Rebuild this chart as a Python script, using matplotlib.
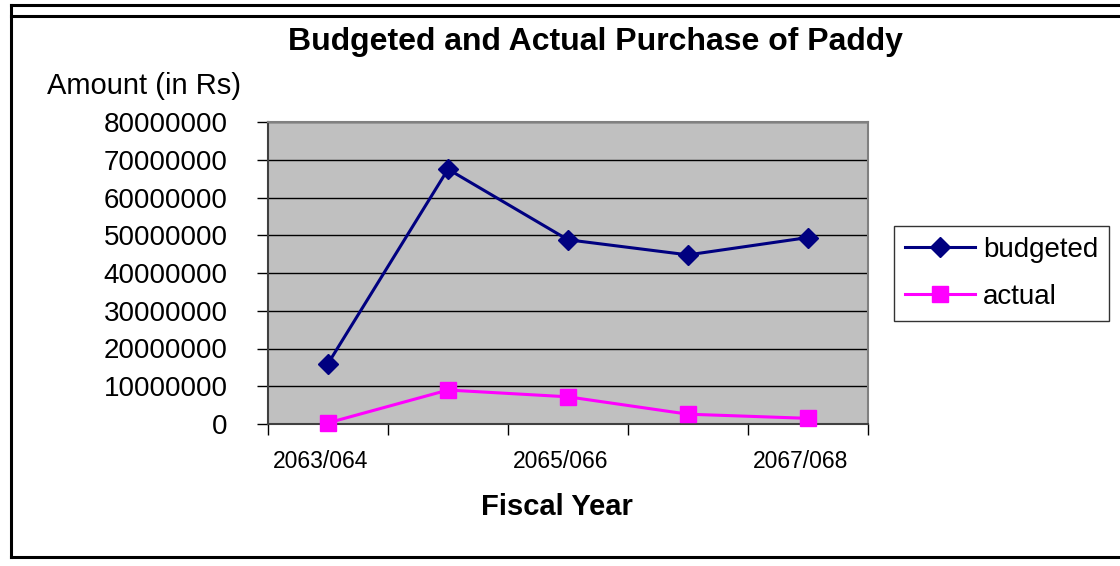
import matplotlib.pyplot as plt
import matplotlib.transforms as mtransforms
from matplotlib.lines import Line2D

plt.rcParams['font.family'] = ['Liberation Sans', 'DejaVu Sans']

years = ['2063/064', '2064/065', '2065/066', '2066/067', '2067/068']
budgeted = [16000000, 67500000, 48800000, 44800000, 49400000]
actual = [300000, 9000000, 7200000, 2600000, 1500000]

fig = plt.figure(figsize=(11.2, 5.66), dpi=100)
ax = fig.add_axes([268 / 1120, 1 - 424 / 566, 600 / 1120, 302 / 566])
ax.set_facecolor('#C0C0C0')

x = list(range(len(years)))
ax.plot(x, budgeted, color='#000080', marker='D', markersize=10, linewidth=2.2,
        label='budgeted', clip_on=False, zorder=3)
ax.plot(x, actual, color='#FF00FF', marker='s', markersize=11, linewidth=2.2,
        label='actual', clip_on=False, zorder=3)

ax.set_xlim(-0.5, len(years) - 0.5)
ax.set_ylim(0, 80000000)
ax.set_yticks(range(0, 80000001, 10000000))
ax.yaxis.set_major_formatter(plt.FuncFormatter(lambda v, p: '%d' % v))
ax.tick_params(axis='y', labelsize=20, length=8, width=1, direction='out', pad=21)
ax.grid(axis='y', color='black', linewidth=1)
ax.set_axisbelow(True)

# tick marks between categories, labels on every other category
ax.set_xticks([i - 0.5 for i in range(len(years) + 1)])
ax.set_xticklabels([])
ax.tick_params(axis='x', which='major', length=8, width=1, direction='out')
ax.set_xticks(x[::2], minor=True)
ax.set_xticklabels(years[::2], minor=True)
ax.tick_params(axis='x', which='minor', length=0, labelsize=16.5, pad=19)
shift = mtransforms.ScaledTranslation(-0.07, 0, fig.dpi_scale_trans)
for lbl in ax.get_xticklabels(minor=True):
    lbl.set_transform(lbl.get_transform() + shift)

for s in ['top', 'right']:
    ax.spines[s].set_color('#808080')
    ax.spines[s].set_linewidth(1.5)
for s in ['left', 'bottom']:
    ax.spines[s].set_color('#404040')
    ax.spines[s].set_linewidth(1.5)

fig.text(595 / 1120, 1 - 42 / 566, 'Budgeted and Actual Purchase of Paddy',
         ha='center', va='center', fontsize=23, fontweight='bold')
fig.text(144 / 1120, 1 - 86 / 566, 'Amount (in Rs)', ha='center', va='center',
         fontsize=21)
fig.text(557 / 1120, 1 - 507 / 566, 'Fiscal Year', ha='center', va='center',
         fontsize=21, fontweight='bold')

leg = fig.legend(loc='upper left', bbox_to_anchor=(894 / 1120, 1 - 226 / 566),
                 fontsize=20, frameon=True, fancybox=False, edgecolor='black',
                 handlelength=2.5, borderpad=0.4, labelspacing=0.75,
                 handletextpad=0.3, borderaxespad=0)
leg.get_frame().set_linewidth(1)

# outer chart border
for (x0, y0, x1, y1) in [(11, 5, 1120, 5), (11, 16, 1120, 16), (11, 5, 11, 557), (11, 557, 1120, 557)]:
    fig.add_artist(Line2D([x0 / 1120, x1 / 1120], [1 - y0 / 566, 1 - y1 / 566],
                          color='black', linewidth=2.2))

fig.savefig('out.png', dpi=100)
